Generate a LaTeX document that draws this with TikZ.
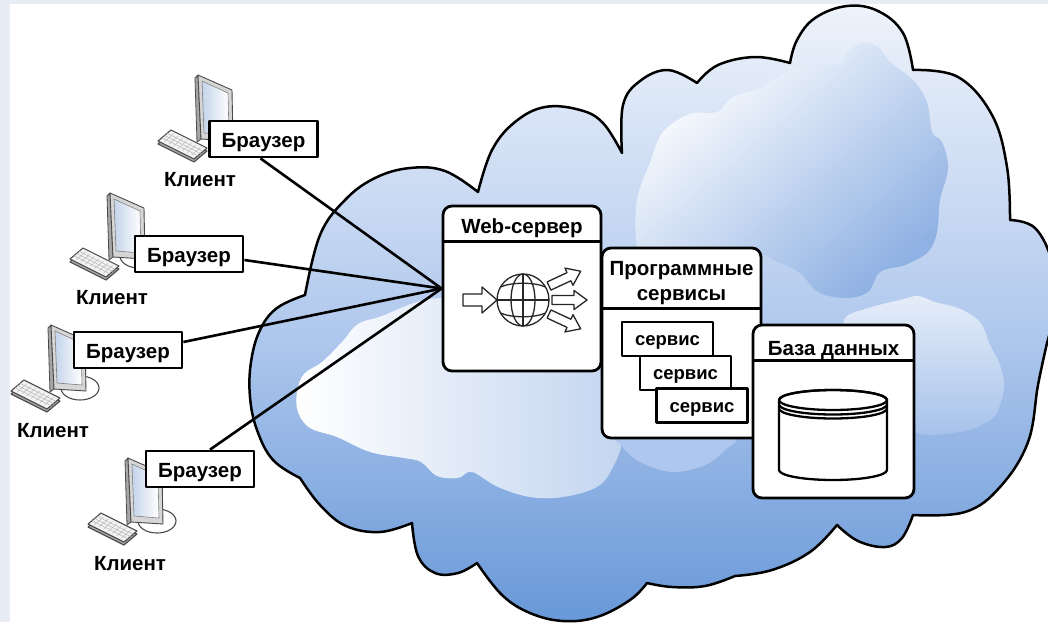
\documentclass[tikz,border=0pt]{standalone}
\usepackage{fontspec}
\setmainfont{Liberation Sans}
\usetikzlibrary{calc}

\definecolor{framebg}{HTML}{E8EDF5}
\definecolor{cloudtop}{HTML}{EEF3FB}
\definecolor{cloudmid}{HTML}{B4CBEE}
\definecolor{cloudbot}{HTML}{6898D8}
\definecolor{puffblue}{HTML}{8FB1E3}
\definecolor{pufflight}{HTML}{C3D5F0}
\definecolor{pufflobe}{HTML}{AFC7EE}
\definecolor{iconline}{HTML}{4A4A4A}
\definecolor{bezel}{HTML}{D6D6D6}
\definecolor{bezelside}{HTML}{A6A6A6}
\definecolor{screenblue}{HTML}{C4D4EA}
\definecolor{keycap}{HTML}{F3F3F3}
\definecolor{keygrid}{HTML}{B8B8B8}

\tikzset{
  boxline/.style={line width=2.8pt, draw=black},
  panel/.style={boxline, fill=white, rectangle, rounded corners=9pt, inner sep=0pt},
  tag/.style={boxline, fill=white, rectangle, minimum width=108pt, minimum height=36pt,
    inner sep=0pt, text height=16pt, text depth=0pt, font=\bfseries\fontsize{20.5}{24}\selectfont},
  svc/.style={boxline, fill=white, rectangle, minimum width=91pt, minimum height=34pt,
    inner sep=0pt, text height=13pt, text depth=0pt, font=\bfseries\fontsize{18.5}{22}\selectfont},
  ttl/.style={inner sep=0pt, anchor=base, font=\bfseries\fontsize{20.5}{24}\selectfont},
  link/.style={line width=2.6pt, draw=black},
  glyph/.style={line width=1.3pt, draw=black!85},
  cyl/.style={line width=2.3pt, draw=black},
  % desktop computer: monitor on a round stand with a keyboard in front
  pics/client/.style={code={
    \draw[line width=1.1pt, draw=iconline, fill=white] (32,63) ellipse[x radius=19pt, y radius=12pt];
    \filldraw[line width=0.8pt, draw=iconline, fill=bezelside] (0,3) -- (3,0) -- (6,64) -- (2,67) -- cycle;
    \filldraw[line width=0.9pt, draw=iconline, fill=bezel] (3,0) -- (37,15) -- (38,66) -- (6,64) -- cycle;
    \shadedraw[left color=screenblue, right color=white, draw=iconline!70, line width=0.6pt]
      (7,6) -- (33,18) -- (34,60) -- (9,58) -- cycle;
    \path (-37,66) coordinate (kl) (-24,55) coordinate (kt) (12,73) coordinate (kr) (-1,84) coordinate (kb);
    \filldraw[line width=1.1pt, draw=iconline, fill=bezelside]
      ($(kl)+(0,3)$) -- ($(kt)+(0,3)$) -- ($(kr)+(0,3)$) -- ($(kb)+(0,3)$) -- cycle;
    \filldraw[line width=1.1pt, draw=iconline, fill=keycap] (kl) -- (kt) -- (kr) -- (kb) -- cycle;
    \foreach \f in {0.3,0.5,0.7}
      \draw[keygrid, line width=0.5pt] ($(kl)!\f!(kt)$) -- ($(kb)!\f!(kr)$);
    \foreach \g in {0.125,0.25,0.375,0.5,0.625,0.75,0.875}
      \draw[keygrid, line width=0.5pt] ($($(kl)!\g!(kb)$)!0.15!($(kt)!\g!(kr)$)$) -- ($($(kl)!\g!(kb)$)!0.85!($(kt)!\g!(kr)$)$);
  }}
}

\begin{document}
\begin{tikzpicture}[x=1pt, y=-1pt, line join=round]
\useasboundingbox (0,0) rectangle (1048,622);

% page frame
\fill[framebg] (0,0) rectangle (1048,622);
\fill[white] (10,4) rectangle (1048,622);

% the cloud
\shadedraw[top color=cloudtop, bottom color=cloudbot, middle color=cloudmid, draw=black, line width=2.5pt]
  plot[smooth, tension=0.65] coordinates {(305,295) (320,235) (345,200) (375,178) (410,168) (445,171) (478,192)}
  -- plot[smooth, tension=0.65] coordinates {(478,192) (492,150) (515,122) (545,107) (580,110) (603,123) (622,153)}
  -- plot[smooth, tension=0.65] coordinates {(622,153) (623,105) (640,81) (668,70) (697,83)}
  -- plot[smooth, tension=0.65] coordinates {(697,83) (718,65) (755,57) (790,63)}
  -- plot[smooth, tension=0.65] coordinates {(790,63) (797,40) (815,18) (847,6) (878,11) (903,33) (913,70)}
  -- plot[smooth, tension=0.65] coordinates {(913,70) (958,77) (992,115) (1007,167) (1010,220)}
  -- plot[smooth, tension=0.65] coordinates {(1010,220) (1035,228) (1052,262) (1055,305) (1047,343)}
  -- plot[smooth, tension=0.65] coordinates {(1047,343) (1038,385) (1028,442) (1000,487) (965,512) (913,515)}
  -- plot[smooth, tension=0.65] coordinates {(913,515) (902,538) (885,547) (858,541) (837,525)}
  -- plot[smooth, tension=0.65] coordinates {(837,525) (810,552) (772,570) (735,576)}
  -- plot[smooth, tension=0.65] coordinates {(735,576) (705,586) (672,587) (647,583)}
  -- plot[smooth, tension=0.65] coordinates {(647,583) (630,600) (597,617) (563,621) (530,613) (502,595) (477,563)}
  -- plot[smooth, tension=0.65] coordinates {(477,563) (458,573) (435,573) (418,556) (412,523)}
  -- plot[smooth, tension=0.65] coordinates {(412,523) (380,532) (346,526) (320,505) (300,478)}
  -- plot[smooth, tension=0.65] coordinates {(300,478) (273,460) (257,430) (250,397) (251,362) (260,330) (277,308) (305,295)}
  -- cycle;

% lighter puffs inside the cloud
\shade[top color=white, bottom color=puffblue, shading angle=40]
  plot[smooth cycle, tension=0.6] coordinates {(637,245) (637,200) (650,163) (663,132) (690,114) (717,112)
    (733,97) (760,88) (790,70) (815,64) (840,64) (848,52) (862,43) (878,47) (890,62) (913,80) (927,102)
    (932,132) (942,142) (948,168) (940,200) (937,232) (928,252) (905,265) (880,272) (868,292) (845,298)
    (818,292) (800,273) (778,262) (757,255) (700,262) (650,258)};
\shade[left color=white, right color=pufflight]
  plot[smooth cycle, tension=0.6] coordinates {(445,298) (417,302) (382,316) (358,324) (342,342) (322,362)
    (304,374) (297,392) (298,412) (310,428) (337,437) (370,452) (404,458) (421,462) (437,476) (458,478)
    (472,472) (498,487) (530,497) (563,497) (597,487) (613,467) (622,435) (610,380) (560,330) (500,300)};
\fill[pufflobe]
  plot[smooth cycle, tension=0.6] coordinates {(615,430) (622,446) (640,462) (673,472) (705,465) (725,450) (735,438) (700,425)};
\shade[top color=cloudtop!80!pufflight, bottom color=cloudmid!80!cloudbot]
  plot[smooth cycle, tension=0.6] coordinates {(845,318) (872,307) (900,300) (918,296) (935,302) (955,307)
    (970,314) (982,325) (990,345) (1000,365) (1004,385) (1000,405) (990,420) (960,432) (910,430) (880,380) (850,340)};

% client computers
\pic at (195,75) {client};
\pic at (107,193) {client};
\pic at (48,325) {client};
\pic at (125,458) {client};

\node[tag] (b1) at (263.5,139) {Браузер};
\node[tag] (b2) at (189,254) {Браузер};
\node[tag] (b3) at (128,350) {Браузер};
\node[tag] (b4) at (200,469) {Браузер};

\node[ttl] (k1) at (200,186) {Клиент};
\node[ttl] (k2) at (112,304) {Клиент};
\node[ttl] (k3) at (53,437) {Клиент};
\node[ttl] (k4) at (130,570) {Клиент};

% web server
\node[panel, minimum width=158pt, minimum height=165pt] (web) at (522,288.5) {};
\draw[boxline] ($(web.north west)+(0,37)$) -- ($(web.north east)+(0,37)$);
\node[ttl] (webt) at (522,233) {Web-сервер};

% globe with incoming and outgoing requests
\coordinate (globe) at (523,300);
\filldraw[glyph, fill=white] (463,294) -- (482,294) -- (482,287) -- (497,300) -- (482,313) -- (482,306) -- (463,306) -- cycle;
\draw[glyph] (globe) circle[radius=26pt];
\draw[glyph] (globe) ellipse[x radius=12pt, y radius=26pt];
\draw[glyph] ($(globe)+(0,-26)$) -- ($(globe)+(0,26)$);
\draw[glyph] ($(globe)+(-26,0)$) -- ($(globe)+(26,0)$);
\draw[glyph] ($(globe)+(-22.5,-13)$) .. controls ($(globe)+(-12,-18)$) and ($(globe)+(12,-18)$) .. ($(globe)+(22.5,-13)$);
\draw[glyph] ($(globe)+(-22.5,13)$) .. controls ($(globe)+(-12,18)$) and ($(globe)+(12,18)$) .. ($(globe)+(22.5,13)$);
\foreach \px/\py/\ang in {549/286/25, 552/300/0, 549/314/-25}
  \filldraw[glyph, fill=white, shift={(\px,\py)}, rotate=\ang]
    (0,-4.5) -- (22,-4.5) -- (22,-9.5) -- (35,0) -- (22,9.5) -- (22,4.5) -- (0,4.5) -- cycle;

% software services
\node[panel, minimum width=159pt, minimum height=190pt] (svcs) at (681.5,343) {};
\draw[boxline] ($(svcs.north west)+(0,62)$) -- ($(svcs.north east)+(0,62)$);
\node[ttl] (svt1) at (681.5,275) {Программные};
\node[ttl] (svt2) at (681.5,300) {сервисы};
\node[svc] (s1) at (667.5,339) {сервис};
\node[svc] (s2) at (685.5,373) {сервис};
\node[svc] (s3) at (702,405.5) {сервис};

% database
\node[panel, minimum width=161pt, minimum height=173pt] (db) at (833.5,411.5) {};
\draw[boxline] ($(db.north west)+(0,37)$) -- ($(db.north east)+(0,37)$);
\node[ttl] (dbt) at (833.5,355) {База данных};
\filldraw[cyl, fill=white] (779,400) -- (779,470) arc[start angle=180, end angle=360, x radius=54pt, y radius=10pt]
  -- (887,400) arc[start angle=0, end angle=180, x radius=54pt, y radius=10pt] -- cycle;
\draw[cyl] (833,400) ellipse[x radius=54pt, y radius=10pt];
\draw[cyl] (779,404.5) arc[start angle=180, end angle=360, x radius=54pt, y radius=10pt];
\draw[cyl] (779,408.5) arc[start angle=180, end angle=360, x radius=54pt, y radius=10pt];

% connections from the browsers to the web server
\coordinate (hub) at (web.west);
\draw[link] ([xshift=-3pt]b1.south) -- (hub);
\draw[link] ([yshift=-6pt]b2.east) -- (hub);
\draw[link] ([yshift=8pt]b3.east) -- (hub);
\draw[link] ([xshift=10pt]b4.north) -- (hub);
\end{tikzpicture}
\end{document}
